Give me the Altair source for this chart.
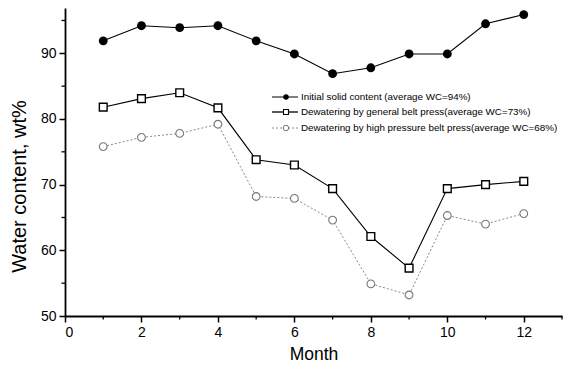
import altair as alt
import pandas as pd

months = list(range(1, 13))
initial = [91.9, 94.2, 93.9, 94.2, 91.9, 89.9, 86.9, 87.8, 89.9, 89.9, 94.5, 95.9]
general = [81.8, 83.1, 84.0, 81.7, 73.8, 73.0, 69.4, 62.1, 57.3, 69.4, 70.0, 70.5]
high = [75.8, 77.2, 77.8, 79.2, 68.2, 67.9, 64.6, 54.9, 53.2, 65.3, 64.0, 65.6]

series_names = [
    "Initial solid content (average WC=94%)",
    "Dewatering by general belt press(average WC=73%)",
    "Dewatering by high pressure belt press(average WC=68%)",
]

major_x = [0, 2, 4, 6, 8, 10, 12]
minor_x = [1, 3, 5, 7, 9, 11, 13]
major_y = [50, 60, 70, 80, 90]
minor_y = [55, 65, 75, 85, 95]

W, H = 497, 308
FONT = "Liberation Sans"

df = pd.DataFrame({
    "month": months * 3,
    "wc": initial + general + high,
    "series": [series_names[0]] * 12 + [series_names[1]] * 12 + [series_names[2]] * 12,
})

xs = alt.Scale(domain=[0, 13], nice=False, zero=False)
ys = alt.Scale(domain=[50, 96.9], nice=False, zero=False)

xax = alt.Axis(values=major_x, title="Month", tickSize=6, tickWidth=1.5, domainWidth=1.8,
               domainColor="black", tickColor="black", labelFontSize=14, labelColor="black",
               labelPadding=3, titleFontSize=17.5, titleFontWeight="normal", titleColor="black",
               titlePadding=6, grid=False, labelFont=FONT, titleFont=FONT)
yax = alt.Axis(values=major_y, title="Water content, wt%", tickSize=6, tickWidth=1.5, domainWidth=1.8,
               domainColor="black", tickColor="black", labelFontSize=14, labelColor="black",
               labelPadding=3, titleFontSize=20, titleFontWeight="normal", titleColor="black",
               titleX=-46, titleY=178, titleAngle=270, titleAlign="center", titleBaseline="middle",
               grid=False, labelFont=FONT, titleFont=FONT)

base = alt.Chart(df)

def sel(i):
    return base.transform_filter(alt.datum.series == series_names[i])

X = alt.X("month:Q", scale=xs, axis=xax)
Y = alt.Y("wc:Q", scale=ys, axis=yax)

l_init = sel(0).mark_line(color="black", strokeWidth=1.1).encode(x=X, y=Y)
l_gen = sel(1).mark_line(color="black", strokeWidth=1.1).encode(x=X, y=Y)
l_high = sel(2).mark_line(color="#888888", strokeWidth=1, strokeDash=[2, 2]).encode(x=X, y=Y)

p_init = sel(0).mark_point(shape="circle", filled=True, color="black", size=78, opacity=1).encode(x=X, y=Y)
p_gen = sel(1).mark_point(shape="square", filled=True, fill="white", stroke="black", strokeWidth=1.4,
                          size=60, opacity=1).encode(x=X, y=Y)
p_high = sel(2).mark_point(shape="circle", filled=True, fill="white", stroke="#777777", strokeWidth=1.1,
                           size=60, opacity=1).encode(x=X, y=Y)

# minor ticks
mx = alt.Chart(pd.DataFrame({"m": minor_x})).mark_rule(color="black", strokeWidth=1.3).encode(
    x=alt.X("m:Q", scale=xs), y=alt.value(H), y2=alt.value(H + 3.5))
my = alt.Chart(pd.DataFrame({"m": minor_y})).mark_rule(color="black", strokeWidth=1.3).encode(
    y=alt.Y("m:Q", scale=ys), x=alt.value(0), x2=alt.value(-3.5))

# legend
leg_rows = [89, 104, 120]
lx0, lx1, lmk, ltx = 207, 233, 221, 236
leg_df = pd.DataFrame({"label": series_names})

legend_layers = []
styles = [
    dict(line=dict(color="black", strokeWidth=1), pt=dict(shape="circle", filled=True, color="black", size=30)),
    dict(line=dict(color="black", strokeWidth=1.3), pt=dict(shape="square", filled=True, fill="white", stroke="black", strokeWidth=1.1, size=25)),
    dict(line=dict(color="#888888", strokeWidth=1, strokeDash=[2, 2]), pt=dict(shape="circle", filled=True, fill="white", stroke="#777777", strokeWidth=1, size=30)),
]
for i, st in enumerate(styles):
    row = leg_df.iloc[[i]]
    legend_layers.append(alt.Chart(row).mark_rule(**st["line"]).encode(
        x=alt.value(lx0), x2=alt.value(lx1), y=alt.value(leg_rows[i])))
    legend_layers.append(alt.Chart(row).mark_point(opacity=1, **st["pt"]).encode(
        x=alt.value(lmk), y=alt.value(leg_rows[i])))
    legend_layers.append(alt.Chart(row).mark_text(align="left", baseline="middle", fontSize=9.8,
                                                  font=FONT, color="black").encode(
        x=alt.value(ltx), y=alt.value(leg_rows[i]), text="label:N"))

chart = alt.layer(
    l_high, l_gen, l_init, p_high, p_gen, p_init, mx, my, *legend_layers
).properties(
    width=W, height=H,
    autosize=alt.AutoSizeParams(type="none"),
    padding={"left": 57, "top": 0, "right": 2, "bottom": 49},
    background="white",
).configure_view(stroke=None)

chart.save("out.html", embed_options={"renderer": "svg", "actions": False})
